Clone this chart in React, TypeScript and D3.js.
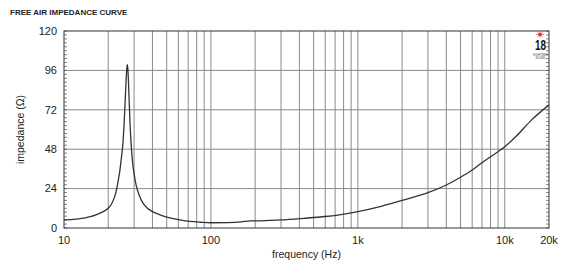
import React from "react";
import * as d3 from "d3";

const title = "FREE AIR IMPEDANCE CURVE";
const xLabel = "frequency (Hz)";
const yLabel = "impedance (Ω)";

const xTicks = [10, 100, 1000, 10000, 20000];
const xTickLabels = ["10", "100", "1k", "10k", "20k"];
const yTicks = [0, 24, 48, 72, 96, 120];

const freqs = [
  10, 12, 14, 15.1, 16.5, 17.6, 19, 20, 21, 22, 22.6, 23.3, 24, 24.6, 25.2,
  25.7, 26.1, 26.5, 26.8, 27, 27.2, 27.5, 27.8, 28.2, 28.7, 29.3, 30, 31,
  32.5, 34.6, 37, 40, 45, 50, 59, 72, 85, 100, 130, 160, 186, 200, 250,
  300, 430, 600, 730, 1000, 1440, 2000, 3000, 4000, 5000, 6000, 7000, 8000,
  9000, 10000, 12000, 15300, 20000,
];
const impedance = [
  4.9, 5.4, 6.2, 6.9, 8.0, 9.1, 10.6, 12, 14.5, 18.5, 22, 28, 35, 43, 52,
  65, 78, 91, 98, 99.5, 97, 88, 76, 62, 50, 40, 33, 26,
  20, 15, 12, 10, 8, 6.6, 5.3, 4.0, 3.5, 3.2, 3.3, 3.7, 4.4, 4.3, 4.6,
  4.9, 5.9, 7.0, 7.9, 10.0, 13.2, 16.8, 21.5, 26.2, 30.9, 35.3, 39.8, 43.4,
  46.5, 49.5, 56, 66, 75,
];

const W = 570;
const H = 273;
const L = 64, R = 549, T = 31, B = 228;

export default function App() {
  const x = d3.scaleLog().domain([10, 20000]).range([L, R]);
  const y = d3.scaleLinear().domain([0, 120]).range([B, T]);

  const gridF: number[] = [];
  [10, 100, 1000, 10000].forEach((d) => {
    for (let m = 1; m <= 9; m++) {
      const f = d * m;
      if (f > 10 && f < 20000) gridF.push(f);
    }
  });

  const minor = d3.range(0, 120.001, 2.4);
  const data = freqs.map((f, i) => ({ f, z: impedance[i] }));
  const line = d3
    .line<{ f: number; z: number }>()
    .x((d) => x(d.f))
    .y((d) => y(d.z))
    .curve(d3.curveMonotoneX);

  const font = "'Liberation Sans', Arial, Helvetica, sans-serif";
  const rays = d3.range(0, 360, 45);

  return (
    <svg
      width={W}
      height={H}
      style={{ position: "absolute", left: 0, top: 0, background: "#fff" }}
      fontFamily={font}
    >
      <rect x={0} y={0} width={W} height={H} fill="#fff" />
      <text x={10} y={15} fontSize={8} fontWeight="bold" fill="#222">
        {title}
      </text>
      {gridF.map((f) => (
        <line key={"gx" + f} x1={x(f)} x2={x(f)} y1={T} y2={B} stroke="#8a8a8a" strokeWidth={1} />
      ))}
      {yTicks.slice(1, -1).map((v) => (
        <line key={"gy" + v} x1={L} x2={R} y1={y(v)} y2={y(v)} stroke="#8a8a8a" strokeWidth={1} />
      ))}
      {minor.map((v, i) => (
        <g key={"m" + i}>
          <line x1={L} x2={L + 3} y1={y(v)} y2={y(v)} stroke="#555" strokeWidth={0.7} />
          <line x1={R - 3} x2={R} y1={y(v)} y2={y(v)} stroke="#555" strokeWidth={0.7} />
        </g>
      ))}
      <rect x={L} y={T} width={R - L} height={B - T} fill="none" stroke="#333" strokeWidth={1} />
      <path d={line(data) || ""} fill="none" stroke="#333" strokeWidth={1.3} />
      {yTicks.map((v) => (
        <text key={"yl" + v} x={57} y={y(v)} dy="0.35em" textAnchor="end" fontSize={11} fill="#222">
          {v}
        </text>
      ))}
      {xTicks.map((v, i) => (
        <text key={"xl" + v} x={x(v)} y={244} textAnchor="middle" fontSize={11} fill="#222">
          {xTickLabels[i]}
        </text>
      ))}
      <text x={(L + R) / 2} y={258} textAnchor="middle" fontSize={10.5} fill="#222">
        {xLabel}
      </text>
      <text
        transform={`translate(24, ${(T + B) / 2}) rotate(-90)`}
        textAnchor="middle"
        fontSize={10.5}
        fill="#222"
      >
        {yLabel}
      </text>
      <g transform="translate(540, 34.5)">
        {rays.map((a) => (
          <line
            key={"r" + a}
            x1={0}
            y1={0}
            x2={4 * Math.cos((a * Math.PI) / 180)}
            y2={4 * Math.sin((a * Math.PI) / 180)}
            stroke="#e04050"
            strokeWidth={0.6}
          />
        ))}
        <circle r={1.8} fill="#d8283a" />
      </g>
      <text x={540.5} y={50} textAnchor="middle" fontSize={15} fontWeight="bold" fill="#111" textLength={11} lengthAdjust="spacingAndGlyphs">
        18
      </text>
      <text x={540.5} y={55.8} textAnchor="middle" fontSize={2.8} fill="#444">
        EIGHTEEN
      </text>
      <text x={540.5} y={58.8} textAnchor="middle" fontSize={2.8} fill="#444">
        SOUND
      </text>
    </svg>
  );
}
